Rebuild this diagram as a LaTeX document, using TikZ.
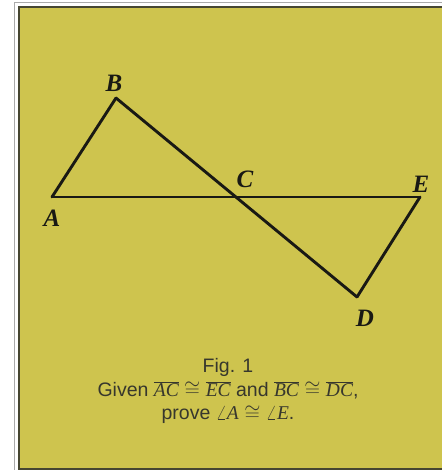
\documentclass[tikz,border=0pt]{standalone}
\usepackage{fontspec}
\setmainfont{Liberation Sans}
\newfontfamily\serf{Liberation Serif}
\definecolor{paper}{RGB}{206,196,78}
\definecolor{ink}{RGB}{25,25,20}
\definecolor{txt}{RGB}{55,55,45}
\definecolor{frameout}{RGB}{170,170,170}
\definecolor{framein}{RGB}{70,70,50}
\newcommand{\seglab}[1]{$\overline{\mbox{\serf\itshape #1}}$}
\newcommand{\ptl}[1]{{\serf\bfseries\itshape #1}}
\begin{document}
\begin{tikzpicture}[x=1pt,y=-1pt,
  edge/.style={draw=ink,line width=2.9pt,line cap=round,line join=miter},
  ptlabel/.style={text=ink,font=\fontsize{25}{25}\selectfont,inner sep=0pt},
  caption/.style={text=txt,font=\fontsize{19.5}{23.5}\selectfont,align=center,inner sep=0pt}]
\useasboundingbox (0,0) rectangle (441,470);
\fill[white] (0,0) rectangle (441,470);
\draw[frameout,line width=1.5pt] (14.5,2.5) rectangle (460,490);
\draw[framein,fill=paper,line width=2pt] (19,7) rectangle (460,469);
% points
\coordinate (A) at (52,197);
\coordinate (B) at (116,98);
\coordinate (C) at (236,197);
\coordinate (E) at (420,197);
\coordinate (D) at (357,297);
% segments
\draw[edge] (A) -- (E);
\draw[edge] (B) -- (D);
\draw[edge] (A) -- (B);
\draw[edge] (E) -- (D);
% labels
\node[ptlabel] (lA) at (52,218) {\ptl{A}};
\node[ptlabel] (lB) at (114,83) {\ptl{B}};
\node[ptlabel] (lC) at (245,179) {\ptl{C}};
\node[ptlabel] (lE) at (421,184) {\ptl{E}};
\node[ptlabel] (lD) at (365,318) {\ptl{D}};
% caption
\node[caption] (cap) at (228,391) {Fig. 1\\Given \seglab{AC} $\cong$ \seglab{EC} and \seglab{BC} $\cong$ \seglab{DC},\\prove $\angle${\serf\itshape A} $\cong$ $\angle${\serf\itshape E}.};
\end{tikzpicture}
\end{document}
